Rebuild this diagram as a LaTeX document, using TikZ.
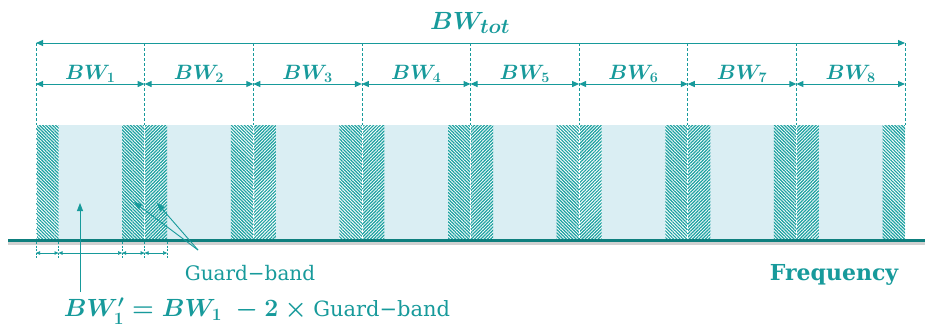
\documentclass[tikz,border=0pt]{standalone}
\usepackage{amsmath,amssymb,bm}
\usepackage{fontspec}
\newfontfamily\gbfont{DejaVu Serif}
\usetikzlibrary{arrows.meta,patterns.meta}
\definecolor{tealtxt}{HTML}{179A9B}
\definecolor{tealaxis}{HTML}{0E7F7E}
\definecolor{bandfill}{HTML}{DAEEF3}
\definecolor{hatch}{HTML}{1AA0A0}
\tikzset{
  dim/.style={tealtxt, line width=1pt, {Triangle[length=7pt,width=6pt]}-{Triangle[length=7pt,width=6pt]}},
  smalldim/.style={tealtxt, line width=0.6pt, {Triangle[length=4pt,width=3.5pt]}-{Triangle[length=4pt,width=3.5pt]}},
  pointer/.style={tealtxt, line width=0.9pt, -{Triangle[length=8pt,width=6pt]}},
  guide/.style={tealtxt, line width=0.7pt, dash pattern=on 3pt off 2pt},
  hatchne/.style={preaction={fill=white}, pattern={Lines[angle=45,distance=2.3pt,line width=1.2pt]}, pattern color=hatch},
  hatchnw/.style={preaction={fill=white}, pattern={Lines[angle=-45,distance=2.3pt,line width=1.2pt]}, pattern color=hatch},
  lbl/.style={text=tealtxt, font=\fontsize{22}{26}\selectfont\boldmath}
}

\begin{document}
\begin{tikzpicture}[x=1pt,y=-1pt]
\useasboundingbox (0,0) rectangle (925,333);
\fill[bandfill] (36,125) rectangle (905,239);
\foreach \i in {0,...,8} {
  \coordinate (t\i) at (36+108.625*\i,43);
  \coordinate (m\i) at (36+108.625*\i,84);
  \coordinate (r\i) at (36+108.625*\i,125);
  \coordinate (b\i) at (36+108.625*\i,239);
}
\fill[hatchnw] (b0) rectangle ([xshift=22.5pt]r0);
\foreach \i in {1,...,7} \fill[hatchne] (b\i) rectangle ([xshift=22.5pt]r\i);
\foreach \i in {1,...,8} \fill[hatchnw] ([xshift=-22.5pt]b\i) rectangle (r\i);
\foreach \i in {0,...,8} {
  \draw[guide] (t\i) -- (r\i);
  \draw[white, line width=0.6pt, dash pattern=on 3pt off 2pt] (r\i) -- (b\i);
}
\draw[black!18, line width=2.5pt] (8,243.5) -- (925,243.5);
\coordinate (ax0) at (8,240);
\coordinate (ax1) at (925,240);
\draw[tealaxis, line width=3pt] (ax0) -- (ax1);
\draw[dim] (t0) -- (t8);
\node[lbl, font=\fontsize{28}{32}\selectfont\boldmath] (bwtot) at (470,23) {$BW_{tot}$};
\foreach \j [count=\i] in {0,...,7}
  \draw[dim] (m\j) -- (m\i) node[midway, above=-2pt, lbl] (bw\i) {$BW_{\i}$};
\foreach \n/\x in {0/36, 1/58.5, 2/122.1, 3/144.6, 4/167.1} {
  \coordinate (g\n) at (\x,253);
  \draw[guide, line width=0.5pt, dash pattern=on 2pt off 1.5pt] (\x,242) -- (\x,259);
}
\foreach \a/\b in {0/1, 1/2, 2/3, 3/4} \draw[smalldim] (g\a) -- (g\b);
\node[text=tealtxt, font=\fontsize{20}{24}\gbfont] (gb) at (250,273) {Guard−band};
\coordinate (gbfoot) at (198,250);
\coordinate (gbtip1) at (134,202);
\coordinate (gbtip2) at (157,203);
\draw[pointer] (gbfoot) -- (gbtip1);
\draw[pointer] (gbfoot) -- (gbtip2);
\node[text=tealtxt, font=\fontsize{24}{28}\selectfont] (form) at (257,311)
  {{\boldmath$BW'_1 = BW_1\ - 2 \times{}$}{\gbfont\fontsize{21}{26}\selectfont Guard−band}};
\coordinate (upbase) at (80,292);
\coordinate (uptip) at (80,203);
\draw[pointer] (upbase) -- (uptip);
\node[text=tealtxt, font=\fontsize{22}{26}\gbfont\bfseries] (freq) at (834,275) {Frequency};
\end{tikzpicture}
\end{document}
